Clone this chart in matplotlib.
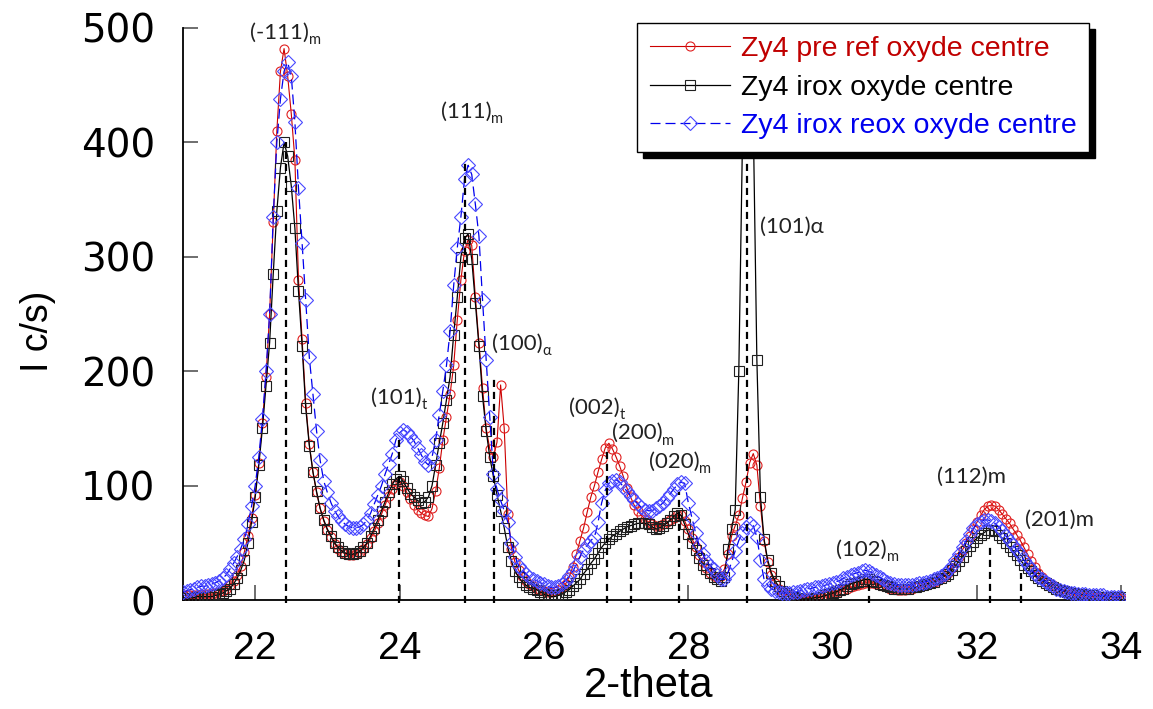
import numpy as np
import matplotlib
matplotlib.use("Agg")
import matplotlib.pyplot as plt
from matplotlib import font_manager

# ---------------- data (2-theta scan, 0.05 deg step, 21.00 .. 34.00) ----------------
scan_start = 21.0
scan_step = 0.05

# one row per degree (20 points), last row = 34.00
pre_ref = [
    4, 4, 4, 4, 4, 5, 5, 5, 5, 6, 7, 8, 10, 13, 17, 22, 30, 42, 56, 72,                     # 21
    92, 120, 155, 195, 250, 330, 410, 462, 482, 458, 425, 385, 280, 228, 172, 136, 112, 94, 80, 69,  # 22
    61, 55, 49, 45, 42, 40, 39, 39, 40, 42, 45, 49, 54, 60, 67, 75, 83, 91, 97, 101,        # 23
    103, 100, 94, 88, 83, 79, 76, 74, 73, 80, 95, 115, 140, 160, 180, 205, 245, 280, 305, 315,  # 24
    310, 265, 225, 185, 150, 132, 125, 138, 188, 150, 75, 45, 33, 26, 21, 17, 14, 12, 10, 9,  # 25
    8, 7, 7, 8, 9, 11, 14, 20, 29, 40, 52, 63, 77, 90, 100, 112, 123, 133, 137, 132,        # 26
    125, 117, 108, 98, 90, 83, 78, 74, 71, 68, 66, 65, 65, 66, 68, 70, 72, 74, 74, 69,      # 27
    62, 54, 46, 39, 33, 28, 24, 21, 20, 21, 27, 40, 56, 65, 74, 89, 103, 120, 128, 118,     # 28
    82, 52, 33, 22, 15, 10, 7, 5, 4, 3, 2, 2, 2, 2, 2, 2, 3, 3, 4, 5,                       # 29
    6, 7, 8, 9, 10, 11, 12, 13, 14, 15, 15, 15, 14, 13, 12, 11, 10, 10, 9, 9,               # 30
    9, 10, 10, 11, 12, 13, 14, 15, 16, 17, 19, 21, 24, 28, 33, 38, 44, 50, 56, 62,          # 31
    68, 74, 79, 82, 83, 82, 79, 75, 71, 67, 62, 57, 52, 46, 40, 34, 29, 24, 20, 17,         # 32
    15, 13, 11, 9, 8, 7, 6, 5, 5, 4, 4, 4, 3, 3, 3, 3, 3, 3, 2, 2,                          # 33
    2,                                                                                       # 34
]

irox = [
    2, 2, 2, 2, 3, 3, 3, 3, 3, 4, 5, 6, 8, 10, 14, 19, 26, 35, 50, 68,                      # 21
    90, 118, 150, 187, 225, 285, 340, 378, 400, 388, 362, 325, 270, 222, 168, 135, 112, 95, 80, 70,  # 22
    62, 56, 50, 46, 43, 41, 40, 40, 41, 43, 46, 50, 56, 63, 70, 78, 86, 94, 101, 106,       # 23
    108, 104, 98, 93, 90, 87, 85, 86, 90, 100, 118, 137, 155, 175, 195, 232, 265, 300, 316, 320,  # 24
    298, 260, 222, 178, 148, 125, 108, 92, 78, 63, 46, 34, 25, 20, 16, 13, 11, 10, 9, 7,    # 25
    5, 4, 3, 3, 4, 5, 7, 9, 12, 15, 18, 23, 27, 32, 36, 41, 46, 50, 53, 56,                 # 26
    58, 60, 62, 64, 65, 66, 67, 67, 67, 66, 64, 62, 63, 65, 67, 70, 73, 76, 74, 66,         # 27
    58, 50, 44, 37, 31, 27, 24, 20, 18, 17, 20, 45, 62, 79, 200, 400, 550, 560, 420, 210,   # 28
    90, 53, 35, 24, 17, 12, 8, 6, 4, 3, 2, 1, 1, 1, 1, 2, 2, 3, 4, 5,                       # 29
    6, 7, 9, 10, 12, 14, 15, 16, 17, 18, 18, 17, 16, 14, 13, 12, 11, 10, 10, 10,            # 30
    10, 10, 11, 11, 12, 13, 14, 15, 16, 18, 19, 21, 23, 26, 30, 34, 38, 43, 47, 51,         # 31
    54, 57, 59, 61, 61, 60, 57, 54, 50, 46, 43, 39, 35, 31, 28, 25, 22, 19, 17, 15,         # 32
    13, 11, 10, 9, 8, 7, 6, 6, 5, 5, 4, 4, 4, 3, 3, 3, 3, 3, 3, 3,                          # 33
    3,                                                                                       # 34
]

irox_reox = [
    7, 8, 9, 10, 11, 12, 12, 13, 14, 15, 17, 19, 22, 27, 32, 38, 45, 53, 66, 82,            # 21
    100, 125, 158, 200, 250, 335, 400, 438, 462, 470, 458, 418, 360, 312, 262, 212, 180, 148, 122, 104,  # 22
    94, 85, 78, 73, 69, 66, 64, 63, 63, 64, 66, 70, 76, 84, 92, 100, 110, 119, 128, 140,    # 23
    146, 149, 147, 143, 139, 133, 127, 121, 118, 125, 140, 162, 183, 205, 235, 275, 308, 335, 368, 380,  # 24
    372, 346, 318, 262, 210, 160, 110, 97, 87, 78, 68, 50, 38, 30, 26, 23, 20, 18, 17, 15,  # 25
    14, 12, 11, 11, 12, 14, 17, 21, 25, 31, 38, 44, 48, 52, 55, 68, 85, 96, 102, 104,       # 26
    105, 103, 99, 95, 91, 87, 84, 81, 79, 78, 78, 80, 82, 85, 89, 93, 97, 101, 103, 102,    # 27
    85, 72, 59, 48, 40, 34, 30, 27, 22, 18, 18, 24, 33, 43, 52, 59, 64, 67, 65, 55,         # 28
    35, 18, 13, 10, 8, 7, 6, 6, 6, 7, 7, 8, 9, 10, 10, 11, 11, 12, 13, 14,                  # 29
    15, 16, 17, 19, 20, 22, 23, 24, 25, 26, 25, 24, 22, 20, 18, 16, 15, 14, 13, 13,         # 30
    13, 13, 13, 14, 15, 15, 16, 17, 18, 19, 21, 23, 26, 30, 35, 40, 46, 52, 58, 63,         # 31
    66, 68, 70, 70, 69, 67, 64, 60, 56, 52, 48, 44, 40, 35, 31, 27, 23, 20, 18, 16,         # 32
    14, 12, 10, 9, 8, 7, 6, 6, 5, 5, 5, 4, 4, 4, 4, 4, 3, 3, 3, 3,                          # 33
    3,                                                                                       # 34
]

series_labels = ["Zy4 pre ref oxyde centre", "Zy4 irox oxyde centre", "Zy4 irox reox oxyde centre"]

# peak annotations
peak_pos = [22.43, 23.99, 24.91, 25.31, 26.87, 27.20, 27.87, 28.81, 30.51, 32.18, 32.61]
peak_top = [400, 140, 384, 197, 134, 50, 94, 400, 13, 46, 24]
peak_main = ["(-111)", "(101)", "(111)", "(100)", "(002)", "(200)", "(020)", "(101)\u03b1", "(102)", "(112)m", "(201)m"]
peak_sub = ["m", "t", "m", "\u03b1", "t", "m", "m", "", "m", "", ""]
label_x = [21.93, 23.60, 24.57, 25.28, 26.35, 26.94, 27.45, 29.00, 30.05, 31.44, 32.67]
label_y = [496, 177, 427, 224, 168, 146, 121, 326, 44, 108, 70]

x_ticks = [22, 24, 26, 28, 30, 32, 34]
y_ticks = [0, 100, 200, 300, 400, 500]

# ---------------- plotting ----------------
two_theta = np.round(scan_start + scan_step * np.arange(len(irox)), 2)
assert len(pre_ref) == len(irox) == len(irox_reox) == 261

installed = {f.name for f in font_manager.fontManager.ttflist}
narrow = "Liberation Sans Narrow" if "Liberation Sans Narrow" in installed else "Liberation Sans"
ann_font = ["Lato", "DejaVu Sans"]

W, H = 1153, 709
fig = plt.figure(figsize=(W / 100, H / 100), dpi=100)
ax = fig.add_axes([183 / W, 109 / H, 942 / W, 572 / H])

ax.plot(two_theta, pre_ref, color="#cc0000", lw=0.8, marker="o", ms=6.5, mfc="none",
        mec="#e02020", mew=0.8, zorder=2, label=series_labels[0])
ax.plot(two_theta, irox, color="black", lw=0.9, marker="s", ms=7.5, mfc="none",
        mec="#202020", mew=0.8, zorder=3, label=series_labels[1])
ax.plot(two_theta, irox_reox, color="#0000ee", lw=0.9, ls=(0, (8, 4)), marker="D", ms=7,
        mfc="none", mec="#4848ff", mew=0.8, zorder=4, label=series_labels[2])

for xp, yt in zip(peak_pos, peak_top):
    ax.plot([xp, xp], [-3, yt], color="black", lw=1.6, ls=(0, (3.2, 2.2)), zorder=6, clip_on=False)

for xl, yl, main, sub in zip(label_x, label_y, peak_main, peak_sub):
    t = ax.text(xl, yl, main, fontsize=16, family=ann_font, color="#222222",
                ha="left", va="center", zorder=7)
    if sub:
        ax.annotate(sub, xy=(1.0, 0.12), xycoords=t, fontsize=10.5, family=ann_font,
                    color="#222222", ha="left", va="center", zorder=7)

ax.set_xlim(21.0, 34.05)
ax.set_ylim(0, 500)
ax.set_xticks(x_ticks)
ax.set_yticks(y_ticks)
for s in ("top", "right"):
    ax.spines[s].set_visible(False)
for s in ("left", "bottom"):
    ax.spines[s].set_linewidth(1.3)
    ax.spines[s].set_color("black")

ax.tick_params(axis="x", direction="in", length=11, width=1.2, color="#555555", pad=22)
ax.tick_params(axis="y", direction="in", length=11, width=1.2, color="#555555", pad=20)
for lab in ax.get_xticklabels():
    lab.set_fontfamily(narrow)
    lab.set_fontsize(28 if narrow == "Liberation Sans" else 33)
for lab in ax.get_yticklabels():
    lab.set_fontfamily("DejaVu Sans")
    lab.set_fontsize(28)

ax.set_xlabel("2-theta", fontsize=(30 if narrow == "Liberation Sans" else 34), family=narrow)
ax.xaxis.set_label_coords(0.494, -0.115)
ax.set_ylabel("I c/s)", fontsize=27, family="Liberation Sans")
ax.yaxis.set_label_coords(-0.135, 0.47)

leg = ax.legend(loc="upper left", bbox_to_anchor=(637 / W, 1 - 23 / H), bbox_transform=fig.transFigure,
                borderaxespad=0, frameon=True, fancybox=False, framealpha=1, edgecolor="black",
                prop={"family": "Liberation Sans", "size": 20.5}, handlelength=2.8, handletextpad=0.4,
                borderpad=0.45, labelspacing=0.45, markerscale=1.0,
                shadow={"ox": 4, "oy": -4, "facecolor": "black", "edgecolor": "black", "alpha": 1})
leg.get_frame().set_linewidth(1.0)
leg.set_zorder(20)
for txt, c in zip(leg.get_texts(), ["#c00000", "black", "#0000ee"]):
    txt.set_color(c)

fig.savefig("out.png", dpi=100)
